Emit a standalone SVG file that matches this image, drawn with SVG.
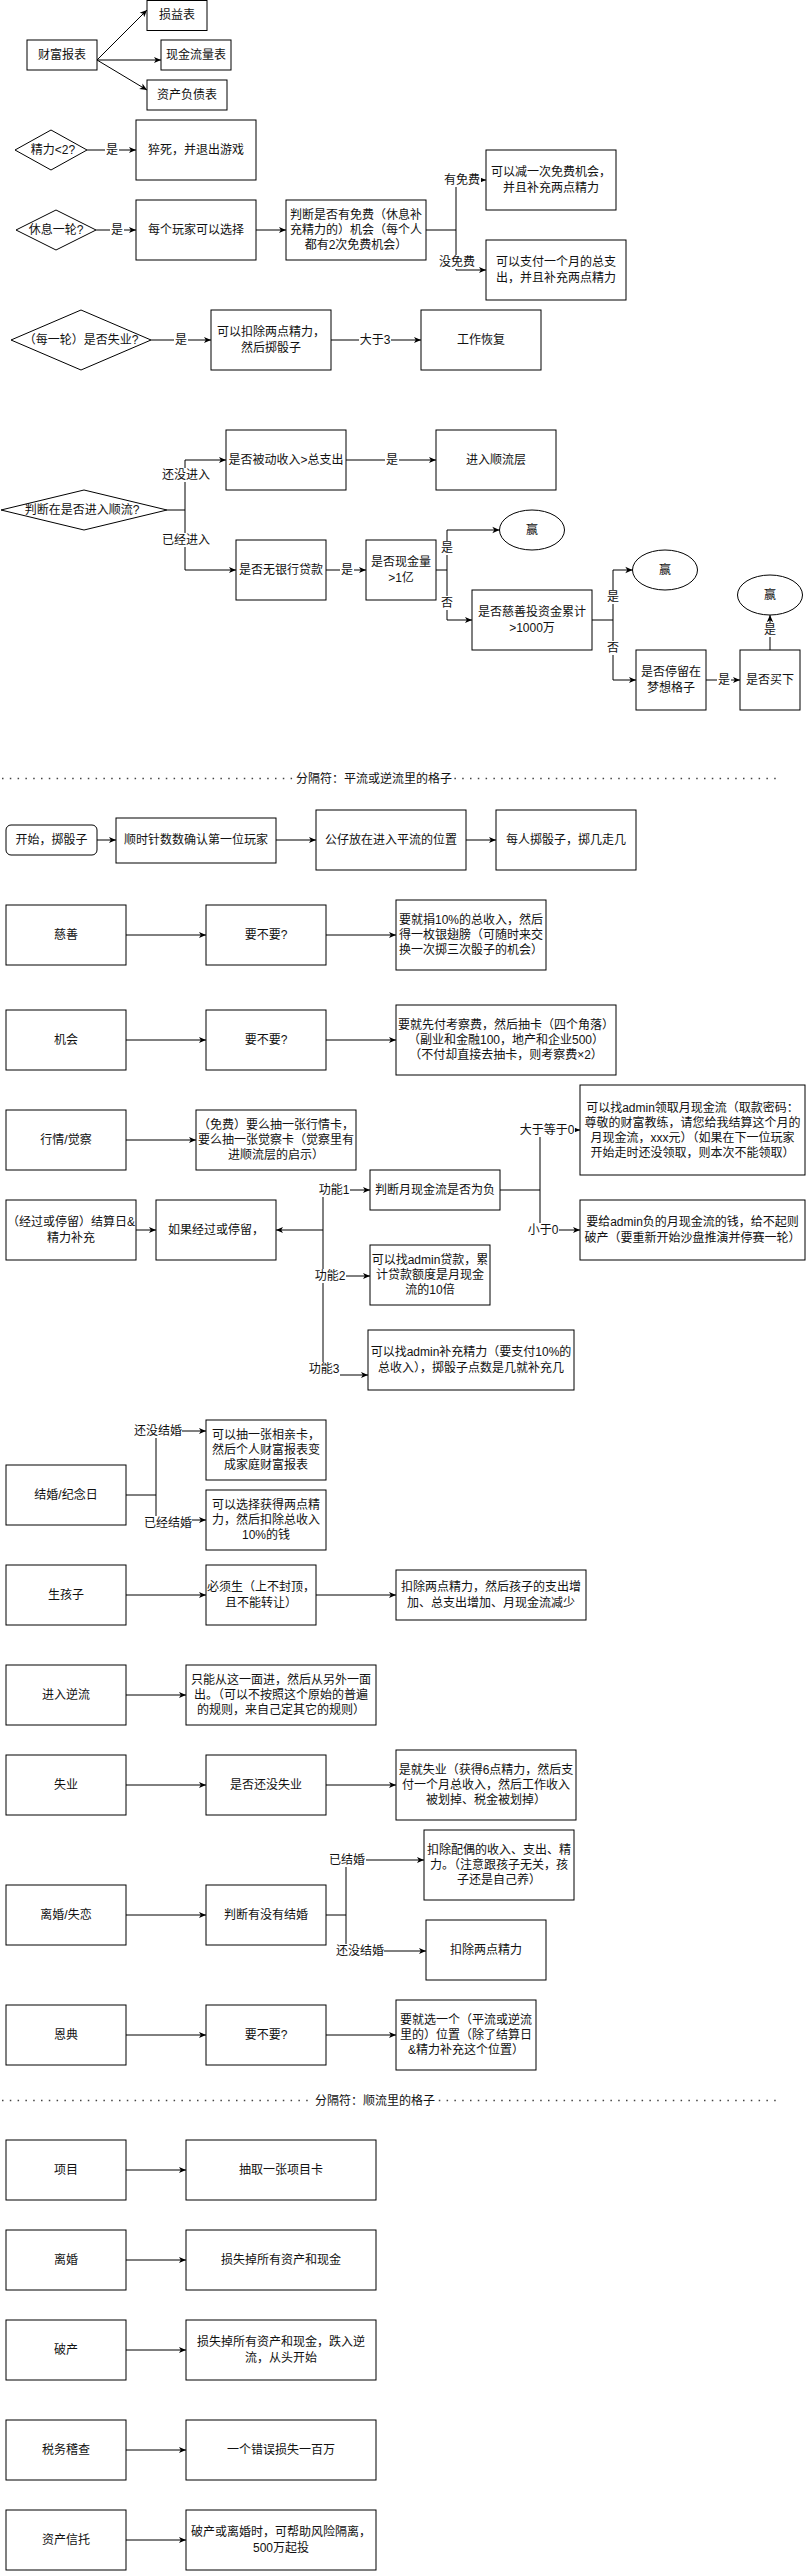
<svg xmlns="http://www.w3.org/2000/svg" width="807" height="2571" viewBox="0 0 807 2571">
<style>
.b{fill:#fff;stroke:#000;stroke-width:1}
.t{font-family:"Liberation Sans","Noto Sans CJK SC",sans-serif;font-size:12px;fill:#111;text-anchor:middle;dominant-baseline:central}
.e{fill:none;stroke:#000;stroke-width:1;marker-end:url(#a)}
.p{fill:none;stroke:#000;stroke-width:1}
.lb{fill:#fff;stroke:none}
.sep{stroke:#444;stroke-width:1.5;stroke-dasharray:1.5 6.3}
.st{font-family:"Liberation Sans","Noto Sans CJK SC",sans-serif;font-size:12px;fill:#111;dominant-baseline:central}
</style>
<defs>
<marker id="a" viewBox="0 0 10 10" refX="9" refY="5" markerWidth="8" markerHeight="8" markerUnits="userSpaceOnUse" orient="auto"><path d="M0,1 L9,5 L0,9 L2.5,5 z" fill="#000"/></marker>
</defs>
<rect width="807" height="2571" fill="#fff"/>

<g id="nodes">
<g id="n_caifu"><rect class="b" x="27" y="40" width="70" height="30"/><text class="t" x="62" y="55">财富报表</text></g>
<g id="n_sunyi"><rect class="b" x="147" y="0.5" width="60" height="30"/><text class="t" x="177" y="15">损益表</text></g>
<g id="n_xianjin"><rect class="b" x="161" y="40" width="70" height="30"/><text class="t" x="196" y="55">现金流量表</text></g>
<g id="n_zichan"><rect class="b" x="147" y="80" width="80" height="30"/><text class="t" x="187" y="95">资产负债表</text></g>

<g id="d_jingli"><polygon class="b" points="15,150 51,130 87,150 51,170"/><text class="t" x="53" y="150">精力&lt;2?</text></g>
<g id="n_cusi"><rect class="b" x="136" y="120" width="120" height="60"/><text class="t" x="196" y="150">猝死，并退出游戏</text></g>

<g id="d_xiuxi"><polygon class="b" points="16,230 56,210 96,230 56,250"/><text class="t" x="56" y="230">休息一轮?</text></g>
<g id="n_xuanze"><rect class="b" x="136" y="200" width="120" height="60"/><text class="t" x="196" y="230">每个玩家可以选择</text></g>
<g id="n_panduan"><rect class="b" x="286" y="200" width="140" height="60"/><text class="t"><tspan x="356" y="215">判断是否有免费（休息补</tspan><tspan x="356" y="230">充精力的）机会（每个人</tspan><tspan x="356" y="245">都有2次免费机会）</tspan></text></g>
<g id="n_youmian"><rect class="b" x="486" y="150" width="130" height="60"/><text class="t"><tspan x="551" y="172">可以减一次免费机会，</tspan><tspan x="551" y="188">并且补充两点精力</tspan></text></g>
<g id="n_meimian"><rect class="b" x="486" y="240" width="140" height="60"/><text class="t"><tspan x="556" y="262">可以支付一个月的总支</tspan><tspan x="556" y="278">出，并且补充两点精力</tspan></text></g>

<g id="d_shiye"><polygon class="b" points="11,340 81,310 151,340 81,370"/><text class="t" x="81" y="340">（每一轮）是否失业?</text></g>
<g id="n_kouchu"><rect class="b" x="211" y="310" width="120" height="60"/><text class="t"><tspan x="271" y="332">可以扣除两点精力，</tspan><tspan x="271" y="348">然后掷骰子</tspan></text></g>
<g id="n_huifu"><rect class="b" x="421" y="310" width="120" height="60"/><text class="t" x="481" y="340">工作恢复</text></g>

<g id="d_shunliu"><polygon class="b" points="1,510 84,490 167,510 84,530"/><text class="t" x="82" y="510">判断在是否进入顺流?</text></g>
<g id="n_beidong"><rect class="b" x="226" y="430" width="120" height="60"/><text class="t" x="286" y="460">是否被动收入&gt;总支出</text></g>
<g id="n_jinru"><rect class="b" x="436" y="430" width="120" height="60"/><text class="t" x="496" y="460">进入顺流层</text></g>
<g id="n_wudaikuan"><rect class="b" x="236" y="540" width="90" height="60"/><text class="t" x="281" y="570">是否无银行贷款</text></g>
<g id="n_yiyi"><rect class="b" x="366" y="540" width="70" height="60"/><text class="t"><tspan x="401" y="562">是否现金量</tspan><tspan x="401" y="578">&gt;1亿</tspan></text></g>
<g id="e_win1"><ellipse class="b" cx="532" cy="530" rx="32.5" ry="20"/><text class="t" x="532" y="530">赢</text></g>
<g id="n_cishan"><rect class="b" x="472" y="590" width="120" height="60"/><text class="t"><tspan x="532" y="612">是否慈善投资金累计</tspan><tspan x="532" y="628">&gt;1000万</tspan></text></g>
<g id="e_win2"><ellipse class="b" cx="665" cy="570" rx="32.5" ry="20"/><text class="t" x="665" y="570">赢</text></g>
<g id="n_mengxiang"><rect class="b" x="636" y="650" width="70" height="60"/><text class="t"><tspan x="671" y="672">是否停留在</tspan><tspan x="671" y="688">梦想格子</tspan></text></g>
<g id="n_maixia"><rect class="b" x="740" y="650" width="60" height="60"/><text class="t" x="770" y="680">是否买下</text></g>
<g id="e_win3"><ellipse class="b" cx="770" cy="595" rx="32.5" ry="20"/><text class="t" x="770" y="595">赢</text></g>

<g id="n_start"><rect class="b" x="6" y="825" width="91" height="30" rx="5"/><text class="t" x="51.5" y="840">开始，掷骰子</text></g>
<g id="n_shunshizhen"><rect class="b" x="116" y="818" width="160" height="45"/><text class="t" x="196" y="840">顺时针数数确认第一位玩家</text></g>
<g id="n_gongzai"><rect class="b" x="316" y="810" width="150" height="60"/><text class="t" x="391" y="840">公仔放在进入平流的位置</text></g>
<g id="n_meiren"><rect class="b" x="496" y="810" width="140" height="60"/><text class="t" x="566" y="840">每人掷骰子，掷几走几</text></g>

<g id="n_cishan2"><rect class="b" x="6" y="905" width="120" height="60"/><text class="t" x="66" y="935">慈善</text></g>
<g id="n_yaobuyao1"><rect class="b" x="206" y="905" width="120" height="60"/><text class="t" x="266" y="935">要不要?</text></g>
<g id="n_juan"><rect class="b" x="396" y="900" width="150" height="70"/><text class="t"><tspan x="471" y="920">要就捐10%的总收入，然后</tspan><tspan x="471" y="935">得一枚银翅膀（可随时来交</tspan><tspan x="471" y="950">换一次掷三次骰子的机会）</tspan></text></g>

<g id="n_jihui"><rect class="b" x="6" y="1010" width="120" height="60"/><text class="t" x="66" y="1040">机会</text></g>
<g id="n_yaobuyao2"><rect class="b" x="206" y="1010" width="120" height="60"/><text class="t" x="266" y="1040">要不要?</text></g>
<g id="n_kaocha"><rect class="b" x="396" y="1005" width="220" height="70"/><text class="t"><tspan x="506" y="1025">要就先付考察费，然后抽卡（四个角落）</tspan><tspan x="506" y="1040">（副业和金融100，地产和企业500）</tspan><tspan x="506" y="1055">（不付却直接去抽卡，则考察费×2）</tspan></text></g>

<g id="n_hangqing"><rect class="b" x="6" y="1110" width="120" height="60"/><text class="t" x="66" y="1140">行情/觉察</text></g>
<g id="n_mianfei"><rect class="b" x="196" y="1110" width="160" height="60"/><text class="t"><tspan x="276" y="1125">（免费）要么抽一张行情卡，</tspan><tspan x="276" y="1140">要么抽一张觉察卡（觉察里有</tspan><tspan x="276" y="1155">进顺流层的启示）</tspan></text></g>

<g id="n_jiesuan"><rect class="b" x="6" y="1200" width="130" height="60"/><text class="t"><tspan x="71" y="1222">（经过或停留）结算日&amp;</tspan><tspan x="71" y="1238">精力补充</tspan></text></g>
<g id="n_ruguo"><rect class="b" x="156" y="1200" width="120" height="60"/><text class="t" x="216" y="1230">如果经过或停留，</text></g>
<g id="n_fuyue"><rect class="b" x="370" y="1170" width="130" height="40"/><text class="t" x="435" y="1190">判断月现金流是否为负</text></g>
<g id="n_lingqu"><rect class="b" x="580" y="1085" width="225" height="90"/><text class="t"><tspan x="692.5" y="1108">可以找admin领取月现金流（取款密码：</tspan><tspan x="692.5" y="1123">尊敬的财富教练，请您给我结算这个月的</tspan><tspan x="692.5" y="1138">月现金流，xxx元）（如果在下一位玩家</tspan><tspan x="692.5" y="1153">开始走时还没领取，则本次不能领取）</tspan></text></g>
<g id="n_pochan1"><rect class="b" x="580" y="1200" width="225" height="60"/><text class="t"><tspan x="692.5" y="1222">要给admin负的月现金流的钱，给不起则</tspan><tspan x="692.5" y="1238">破产（要重新开始沙盘推演并停赛一轮）</tspan></text></g>
<g id="n_daikuan"><rect class="b" x="370" y="1245" width="120" height="60"/><text class="t"><tspan x="430" y="1260">可以找admin贷款，累</tspan><tspan x="430" y="1275">计贷款额度是月现金</tspan><tspan x="430" y="1290">流的10倍</tspan></text></g>
<g id="n_buchong"><rect class="b" x="368" y="1330" width="206" height="60"/><text class="t"><tspan x="471" y="1352">可以找admin补充精力（要支付10%的</tspan><tspan x="471" y="1368">总收入），掷骰子点数是几就补充几</tspan></text></g>

<g id="n_jiehun"><rect class="b" x="6" y="1465" width="120" height="60"/><text class="t" x="66" y="1495">结婚/纪念日</text></g>
<g id="n_xiangqin"><rect class="b" x="206" y="1420" width="120" height="60"/><text class="t"><tspan x="266" y="1435">可以抽一张相亲卡，</tspan><tspan x="266" y="1450">然后个人财富报表变</tspan><tspan x="266" y="1465">成家庭财富报表</tspan></text></g>
<g id="n_liangdian"><rect class="b" x="206" y="1490" width="120" height="60"/><text class="t"><tspan x="266" y="1505">可以选择获得两点精</tspan><tspan x="266" y="1520">力，然后扣除总收入</tspan><tspan x="266" y="1535">10%的钱</tspan></text></g>

<g id="n_shenghaizi"><rect class="b" x="6" y="1565" width="120" height="60"/><text class="t" x="66" y="1595">生孩子</text></g>
<g id="n_bixu"><rect class="b" x="206" y="1565" width="110" height="60"/><text class="t"><tspan x="261" y="1587">必须生（上不封顶，</tspan><tspan x="261" y="1603">且不能转让）</tspan></text></g>
<g id="n_haizi"><rect class="b" x="396" y="1570" width="190" height="50"/><text class="t"><tspan x="491" y="1587">扣除两点精力，然后孩子的支出增</tspan><tspan x="491" y="1603">加、总支出增加、月现金流减少</tspan></text></g>

<g id="n_niliu"><rect class="b" x="6" y="1665" width="120" height="60"/><text class="t" x="66" y="1695">进入逆流</text></g>
<g id="n_zhineng"><rect class="b" x="186" y="1665" width="190" height="60"/><text class="t"><tspan x="281" y="1680">只能从这一面进，然后从另外一面</tspan><tspan x="281" y="1695">出。（可以不按照这个原始的普遍</tspan><tspan x="281" y="1710">的规则，来自己定其它的规则）</tspan></text></g>

<g id="n_shiye"><rect class="b" x="6" y="1755" width="120" height="60"/><text class="t" x="66" y="1785">失业</text></g>
<g id="n_haimei"><rect class="b" x="206" y="1755" width="120" height="60"/><text class="t" x="266" y="1785">是否还没失业</text></g>
<g id="n_shijiu"><rect class="b" x="396" y="1750" width="180" height="70"/><text class="t"><tspan x="486" y="1770">是就失业（获得6点精力，然后支</tspan><tspan x="486" y="1785">付一个月总收入，然后工作收入</tspan><tspan x="486" y="1800">被划掉、税金被划掉）</tspan></text></g>

<g id="n_lihun"><rect class="b" x="6" y="1885" width="120" height="60"/><text class="t" x="66" y="1915">离婚/失恋</text></g>
<g id="n_youmei"><rect class="b" x="206" y="1885" width="120" height="60"/><text class="t" x="266" y="1915">判断有没有结婚</text></g>
<g id="n_peiou"><rect class="b" x="424" y="1830" width="150" height="70"/><text class="t"><tspan x="499" y="1850">扣除配偶的收入、支出、精</tspan><tspan x="499" y="1865">力。（注意跟孩子无关，孩</tspan><tspan x="499" y="1880">子还是自己养）</tspan></text></g>
<g id="n_kouliang"><rect class="b" x="426" y="1920" width="120" height="60"/><text class="t" x="486" y="1950">扣除两点精力</text></g>

<g id="n_endian"><rect class="b" x="6" y="2005" width="120" height="60"/><text class="t" x="66" y="2035">恩典</text></g>
<g id="n_yaobuyao3"><rect class="b" x="206" y="2005" width="120" height="60"/><text class="t" x="266" y="2035">要不要?</text></g>
<g id="n_xuanyige"><rect class="b" x="396" y="2000" width="140" height="70"/><text class="t"><tspan x="466" y="2020">要就选一个（平流或逆流</tspan><tspan x="466" y="2035">里的）位置（除了结算日</tspan><tspan x="466" y="2050">&amp;精力补充这个位置）</tspan></text></g>

<g id="n_xiangmu"><rect class="b" x="6" y="2140" width="120" height="60"/><text class="t" x="66" y="2170">项目</text></g>
<g id="n_chouqu"><rect class="b" x="186" y="2140" width="190" height="60"/><text class="t" x="281" y="2170">抽取一张项目卡</text></g>
<g id="n_lihun2"><rect class="b" x="6" y="2230" width="120" height="60"/><text class="t" x="66" y="2260">离婚</text></g>
<g id="n_sunshi"><rect class="b" x="186" y="2230" width="190" height="60"/><text class="t" x="281" y="2260">损失掉所有资产和现金</text></g>
<g id="n_pochan2"><rect class="b" x="6" y="2320" width="120" height="60"/><text class="t" x="66" y="2350">破产</text></g>
<g id="n_dieru"><rect class="b" x="186" y="2320" width="190" height="60"/><text class="t"><tspan x="281" y="2342">损失掉所有资产和现金，跌入逆</tspan><tspan x="281" y="2358">流，从头开始</tspan></text></g>
<g id="n_shuiwu"><rect class="b" x="6" y="2420" width="120" height="60"/><text class="t" x="66" y="2450">税务稽查</text></g>
<g id="n_cuowu"><rect class="b" x="186" y="2420" width="190" height="60"/><text class="t" x="281" y="2450">一个错误损失一百万</text></g>
<g id="n_xintuo"><rect class="b" x="6" y="2510" width="120" height="60"/><text class="t" x="66" y="2540">资产信托</text></g>
<g id="n_geli"><rect class="b" x="186" y="2510" width="190" height="60"/><text class="t"><tspan x="281" y="2532">破产或离婚时，可帮助风险隔离，</tspan><tspan x="281" y="2548">500万起投</tspan></text></g>
</g>

<g id="separators">
<line class="sep" x1="2" y1="778.5" x2="782" y2="778.5"/>
<rect class="lb" x="294" y="771" width="160" height="15"/>
<text class="st" x="296" y="778.5">分隔符：平流或逆流里的格子</text>
<line class="sep" x1="2" y1="2100.5" x2="782" y2="2100.5"/>
<rect class="lb" x="313" y="2093" width="124" height="15"/>
<text class="st" x="315" y="2100.5">分隔符：顺流里的格子</text>
</g>

<g id="connectors">
<path class="e" d="M97,60 L147,10"/>
<path class="e" d="M97,60 L161,60"/>
<path class="e" d="M97,60 L147,90"/>
<path class="e" d="M87,150 L136,150"/>
<path class="e" d="M96,230 L136,230"/>
<path class="e" d="M256,230 L286,230"/>
<path class="e" d="M426,230 L456,230 L456,180 L486,180"/>
<path class="e" d="M456,230 L456,270 L486,270"/>
<path class="e" d="M151,340 L211,340"/>
<path class="e" d="M331,340 L421,340"/>
<path class="e" d="M167,510 L185,510 L185,460 L226,460"/>
<path class="e" d="M185,510 L185,570 L236,570"/>
<path class="e" d="M346,460 L436,460"/>
<path class="e" d="M326,570 L366,570"/>
<path class="e" d="M436,570 L447,570 L447,530 L499.5,530"/>
<path class="e" d="M447,570 L447,620 L472,620"/>
<path class="e" d="M592,620 L613,620 L613,570 L632.5,570"/>
<path class="e" d="M613,620 L613,680 L636,680"/>
<path class="e" d="M706,680 L740,680"/>
<path class="e" d="M770,650 L770,615"/>
<path class="e" d="M97,840 L116,840"/>
<path class="e" d="M276,840 L316,840"/>
<path class="e" d="M466,840 L496,840"/>
<path class="e" d="M126,935 L206,935"/>
<path class="e" d="M326,935 L396,935"/>
<path class="e" d="M126,1040 L206,1040"/>
<path class="e" d="M326,1040 L396,1040"/>
<path class="e" d="M126,1140 L196,1140"/>
<path class="e" d="M136,1230 L156,1230"/>
<path class="e" d="M323,1230 L276,1230"/>
<path class="p" d="M323,1190 L323,1375"/>
<path class="e" d="M323,1190 L370,1190"/>
<path class="e" d="M323,1276 L370,1276"/>
<path class="e" d="M323,1375 L368,1375"/>
<path class="e" d="M500,1190 L540,1190 L540,1130 L580,1130"/>
<path class="e" d="M540,1190 L540,1230 L580,1230"/>
<path class="e" d="M126,1495 L156,1495 L156,1431 L206,1431"/>
<path class="e" d="M156,1495 L156,1520 L206,1520"/>
<path class="e" d="M126,1595 L206,1595"/>
<path class="e" d="M316,1595 L396,1595"/>
<path class="e" d="M126,1695 L186,1695"/>
<path class="e" d="M126,1785 L206,1785"/>
<path class="e" d="M326,1785 L396,1785"/>
<path class="e" d="M126,1915 L206,1915"/>
<path class="e" d="M326,1915 L346,1915 L346,1860 L424,1860"/>
<path class="e" d="M346,1915 L346,1951 L426,1951"/>
<path class="e" d="M126,2035 L206,2035"/>
<path class="e" d="M326,2035 L396,2035"/>
<path class="e" d="M126,2170 L186,2170"/>
<path class="e" d="M126,2260 L186,2260"/>
<path class="e" d="M126,2350 L186,2350"/>
<path class="e" d="M126,2450 L186,2450"/>
<path class="e" d="M126,2540 L186,2540"/>
</g>

<g id="edge-labels">
<rect class="lb" x="105" y="143" width="14" height="14"/><text class="t" x="112" y="150">是</text>
<rect class="lb" x="110" y="223" width="14" height="14"/><text class="t" x="117" y="230">是</text>
<rect class="lb" x="444" y="173" width="37" height="14"/><text class="t" x="462" y="180">有免费</text>
<rect class="lb" x="439" y="255" width="37" height="14"/><text class="t" x="457" y="262">没免费</text>
<rect class="lb" x="174" y="333" width="14" height="14"/><text class="t" x="181" y="340">是</text>
<rect class="lb" x="359" y="333" width="32" height="14"/><text class="t" x="375" y="340">大于3</text>
<rect class="lb" x="162" y="468" width="48" height="14"/><text class="t" x="186" y="475">还没进入</text>
<rect class="lb" x="162" y="533" width="48" height="14"/><text class="t" x="186" y="540">已经进入</text>
<rect class="lb" x="385" y="453" width="14" height="14"/><text class="t" x="392" y="460">是</text>
<rect class="lb" x="340" y="563" width="14" height="14"/><text class="t" x="347" y="570">是</text>
<rect class="lb" x="440" y="541" width="14" height="14"/><text class="t" x="447" y="548">是</text>
<rect class="lb" x="440" y="596" width="14" height="14"/><text class="t" x="447" y="603">否</text>
<rect class="lb" x="606" y="590" width="14" height="14"/><text class="t" x="613" y="597">是</text>
<rect class="lb" x="606" y="641" width="14" height="14"/><text class="t" x="613" y="648">否</text>
<rect class="lb" x="717" y="673" width="14" height="14"/><text class="t" x="724" y="680">是</text>
<rect class="lb" x="763" y="623" width="14" height="14"/><text class="t" x="770" y="630">是</text>
<rect class="lb" x="519" y="1123" width="56" height="14"/><text class="t" x="547" y="1130">大于等于0</text>
<rect class="lb" x="527" y="1223" width="32" height="14"/><text class="t" x="543" y="1230">小于0</text>
<rect class="lb" x="318" y="1183" width="32" height="14"/><text class="t" x="334" y="1190">功能1</text>
<rect class="lb" x="314" y="1269" width="32" height="14"/><text class="t" x="330" y="1276">功能2</text>
<rect class="lb" x="308" y="1362" width="32" height="14"/><text class="t" x="324" y="1369">功能3</text>
<rect class="lb" x="134" y="1424" width="48" height="14"/><text class="t" x="158" y="1431">还没结婚</text>
<rect class="lb" x="144" y="1516" width="48" height="14"/><text class="t" x="168" y="1523">已经结婚</text>
<rect class="lb" x="329" y="1853" width="37" height="14"/><text class="t" x="347" y="1860">已结婚</text>
<rect class="lb" x="336" y="1944" width="48" height="14"/><text class="t" x="360" y="1951">还没结婚</text>
</g>
</svg>
